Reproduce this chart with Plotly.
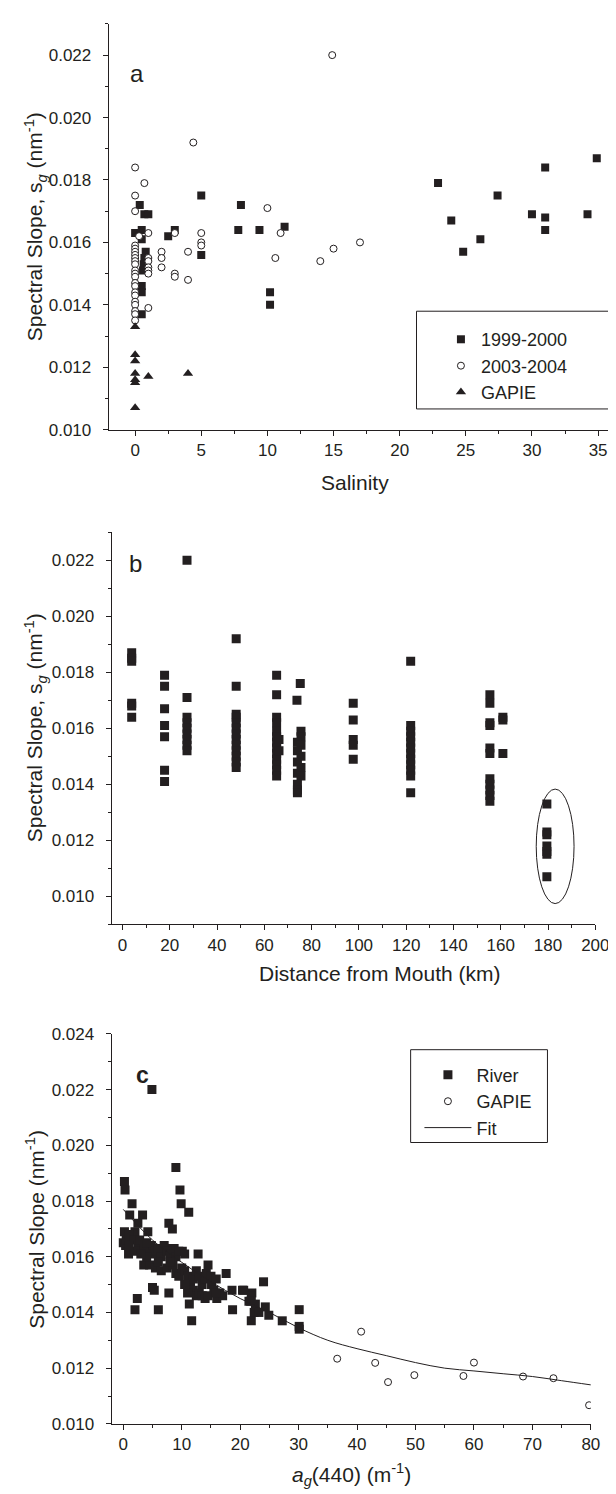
import plotly.graph_objects as go

# ---------------- Panel a : Salinity ----------------
a_9900_x = [0.35, 0.7, 1.0, 0.5, 0.0, 0.5, 0.8, 0.7, 0.65, 0.6, 0.5, 0.5, 0.5,
            2.5, 3.0, 5.0, 5.0, 8.0, 7.8, 9.4, 11.3, 10.2, 10.2,
            22.9, 23.9, 24.8, 26.1, 27.4, 30.0, 31.0, 31.0, 31.0, 34.2, 34.9]
a_9900_y = [0.0172, 0.0169, 0.0169, 0.0164, 0.0163, 0.0161, 0.0157, 0.0155, 0.0153, 0.0151, 0.0146, 0.0144, 0.0137,
            0.0162, 0.0164, 0.0175, 0.0156, 0.0172, 0.0164, 0.0164, 0.0165, 0.0144, 0.0140,
            0.0179, 0.0167, 0.0157, 0.0161, 0.0175, 0.0169, 0.0184, 0.0168, 0.0164, 0.0169, 0.0187]

a_0304_x = [0, 0.7, 0, 0, 1, 0.3, 3, 5, 5, 5, 4, 2, 2, 2, 3, 3, 4, 1,
            0, 0, 0, 0, 0, 0, 0, 0, 0, 0, 0, 0, 0, 0, 0, 0, 0, 0, 0,
            1, 1, 1, 1, 1, 4.4, 14.9, 10, 11, 10.6, 14, 15, 17]
a_0304_y = [0.0184, 0.0179, 0.0175, 0.0170, 0.0163, 0.0162, 0.0163, 0.0163, 0.0160, 0.0159, 0.0157, 0.0157, 0.0155, 0.0152, 0.0150, 0.0149, 0.0148, 0.0139,
            0.0159, 0.0158, 0.0157, 0.0156, 0.0155, 0.0154, 0.0153, 0.0151, 0.0150, 0.0149, 0.0147, 0.0146, 0.0144, 0.0143, 0.0141, 0.0140, 0.0138, 0.0137, 0.0135,
            0.0155, 0.0154, 0.0152, 0.0151, 0.0150, 0.0192, 0.0220, 0.0171, 0.0163, 0.0155, 0.0154, 0.0158, 0.0160]

a_gapie_x = [0, 0, 0, 0, 0, 0, 0, 1, 4]
a_gapie_y = [0.0133, 0.0124, 0.0122, 0.0118, 0.0116, 0.0115, 0.0107, 0.0117, 0.0118]

# ---------------- Panel b : Distance ----------------
b_x = ([3.9] * 6 + [17.8] * 7 + [27.3] * 9 + [48.1] * 13 + [65.2] * 13 + [66.2] * 2 +
       [75.2, 73.8, 75.5, 75.5, 74.0, 75.5, 74.0, 75.5, 74.0, 75.5, 74.0, 75.5, 74.0, 74.0, 74.0] +
       [97.6] * 5 + [121.9] * 12 + [155.4] * 11 + [160.9] * 3 + [179.5] * 7)
b_y = ([0.0187, 0.0185, 0.0184, 0.0169, 0.0168, 0.0164] +
       [0.0179, 0.0175, 0.0167, 0.0161, 0.0157, 0.0145, 0.0141] +
       [0.0220, 0.0171, 0.0164, 0.0162, 0.0160, 0.0158, 0.0156, 0.0154, 0.0152] +
       [0.0192, 0.0175, 0.0165, 0.0164, 0.0162, 0.0160, 0.0158, 0.0156, 0.0154, 0.0152, 0.0150, 0.0148, 0.0146] +
       [0.0179, 0.0172, 0.0164, 0.0162, 0.0159, 0.0157, 0.0155, 0.0153, 0.0151, 0.0149, 0.0147, 0.0145, 0.0143] +
       [0.0156, 0.0152] +
       [0.0176, 0.0170, 0.0159, 0.0157, 0.0155, 0.0154, 0.0152, 0.0150, 0.0148, 0.0146, 0.0144, 0.0143, 0.0140, 0.0138, 0.0137] +
       [0.0169, 0.0163, 0.0156, 0.0154, 0.0149] +
       [0.0184, 0.0161, 0.0159, 0.0157, 0.0155, 0.0153, 0.0151, 0.0149, 0.0147, 0.0145, 0.0143, 0.0137] +
       [0.0172, 0.0169, 0.0162, 0.0161, 0.0153, 0.0151, 0.0142, 0.0140, 0.0138, 0.0136, 0.0134] +
       [0.0164, 0.0163, 0.0151] +
       [0.0133, 0.0123, 0.0122, 0.0118, 0.0116, 0.0115, 0.0107])
ellipse_x = [175.0, 191.0]
ellipse_y = [0.00974, 0.01383]

# ---------------- Panel c : ag(440) ----------------
river_x = [4.9, 9.0, 0.2, 0.3, 9.7, 1.5, 9.9, 11.2, 1.1, 3.3, 7.8, 8.4, 2.5, 0.2, 2.0, 4.2,
           0.4, 2.5, 4.8, 7.3, 8.7, 10.1, 0.9, 12.8,
           0.0, 0.5, 1.0, 1.8, 2.8, 3.5, 4.0, 5.0, 5.5, 6.0, 6.5, 7.0, 7.5, 8.0, 9.0, 9.5, 10.5,
           3.5, 4.5, 5.5, 6.5, 7.5, 8.5, 9.0, 9.5, 10.0, 10.5, 11.0, 11.5, 12.0, 12.5, 13.0, 13.5,
           14.0, 14.2, 14.5, 15.0, 15.1, 15.5, 15.9, 16.0, 12.0, 12.5, 13.0, 13.5, 14.0, 14.5, 11.0,
           10.5, 8.0, 6.0, 4.0, 2.0, 1.0, 3.0, 17.6, 18.6, 20.4, 22.0, 24.0, 16.5, 17.0,
           5.0, 5.3, 7.8, 2.4, 2.0, 6.0, 11.3, 11.7, 18.7, 20.6, 21.8, 21.9, 21.5, 22.6, 22.4,
           21.9, 24.3, 24.9, 23.2, 27.2, 30.1, 30.1, 30.1, 15.8]
river_y = [0.0220, 0.0192, 0.0187, 0.0184, 0.0184, 0.0179, 0.0179, 0.0176, 0.0175, 0.0175, 0.0172, 0.0170, 0.0172, 0.0169, 0.0169, 0.0169,
           0.0164, 0.0164, 0.0164, 0.0163, 0.0163, 0.0162, 0.0161, 0.0161,
           0.0165, 0.0166, 0.0168, 0.0166, 0.0166, 0.0163, 0.0165, 0.0161, 0.0162, 0.0163, 0.0160, 0.0164, 0.0162, 0.0161, 0.0160, 0.0162, 0.0161,
           0.0157, 0.0157, 0.0156, 0.0155, 0.0156, 0.0157, 0.0154, 0.0153, 0.0156, 0.0155, 0.0153, 0.0150, 0.0152, 0.0155, 0.0153, 0.0150,
           0.0152, 0.0154, 0.0157, 0.0153, 0.0150, 0.0148, 0.0152, 0.0145, 0.0148, 0.0146, 0.0147, 0.0146, 0.0145, 0.0146, 0.0147,
           0.0150, 0.0158, 0.0158, 0.0160, 0.0162, 0.0164, 0.0161, 0.0154, 0.0148, 0.0148, 0.0147, 0.0151, 0.0147, 0.0146,
           0.0149, 0.0148, 0.0147, 0.0145, 0.0141, 0.0141, 0.0143, 0.0137, 0.0141, 0.0148, 0.0144, 0.0146, 0.0144, 0.0143, 0.0140,
           0.0137, 0.0142, 0.0139, 0.0140, 0.0137, 0.0141, 0.0135, 0.0134, 0.0147]
gapie_x = [36.6, 40.7, 43.1, 45.3, 49.8, 58.2, 60.0, 68.4, 73.6, 79.7]
gapie_y = [0.01234, 0.01331, 0.01219, 0.01150, 0.01175, 0.01172, 0.01220, 0.01170, 0.01164, 0.01067]
fit_x = [0, 5, 10, 15, 20, 25, 30, 35, 40, 45, 50, 55, 60, 65, 70, 75, 80]
fit_y = [0.0177, 0.0166, 0.0158, 0.0151, 0.0145, 0.0140, 0.01345, 0.0130, 0.0127, 0.01245, 0.0122,
         0.0120, 0.0119, 0.0118, 0.0117, 0.01155, 0.0114]

# ---------------- Figure ----------------
W, H = 616, 1494
INK = "#231f20"
FONT = "Liberation Sans, Arial, sans-serif"

def px_x(p):
    return p / W

def px_y(p):
    return 1 - p / H

fig = go.Figure()

fig.add_trace(go.Scatter(x=a_9900_x, y=a_9900_y, mode="markers", name="1999-2000",
                         marker=dict(symbol="square", size=8, color=INK, line=dict(width=0)),
                         xaxis="x", yaxis="y", legend="legend"))
fig.add_trace(go.Scatter(x=a_0304_x, y=a_0304_y, mode="markers", name="2003-2004",
                         marker=dict(symbol="circle", size=7, color="white", line=dict(width=1, color=INK)),
                         xaxis="x", yaxis="y", legend="legend"))
fig.add_trace(go.Scatter(x=a_gapie_x, y=a_gapie_y, mode="markers", name="GAPIE",
                         marker=dict(symbol="triangle-up", size=9, color=INK, line=dict(width=0)),
                         xaxis="x", yaxis="y", legend="legend"))

fig.add_trace(go.Scatter(x=b_x, y=b_y, mode="markers", showlegend=False,
                         marker=dict(symbol="square", size=9, color=INK, line=dict(width=0)),
                         xaxis="x2", yaxis="y2"))

fig.add_trace(go.Scatter(x=river_x, y=river_y, mode="markers", name="River",
                         marker=dict(symbol="square", size=9, color=INK, line=dict(width=0)),
                         xaxis="x3", yaxis="y3", legend="legend2"))
fig.add_trace(go.Scatter(x=gapie_x, y=gapie_y, mode="markers", name="GAPIE",
                         marker=dict(symbol="circle", size=7, color="white", line=dict(width=1, color=INK)),
                         xaxis="x3", yaxis="y3", legend="legend2"))
fig.add_trace(go.Scatter(x=fit_x, y=fit_y, mode="lines", name="Fit", line=dict(color=INK, width=1, shape="spline"),
                         xaxis="x3", yaxis="y3", legend="legend2"))

def axis_common():
    return dict(showline=True, linecolor=INK, linewidth=1, ticks="outside", ticklen=5, tickwidth=1,
                tickcolor=INK, showgrid=False, zeroline=False, mirror=False,
                tickfont=dict(family=FONT, size=17, color=INK))

fig.update_layout(
    xaxis=dict(domain=[px_x(103), 1.0], range=[-2, 35.9], anchor="y", dtick=5, tick0=0,
               minor=dict(ticks="outside", ticklen=3, dtick=2.5, tickcolor=INK), **axis_common()),
    yaxis=dict(domain=[px_y(418), px_y(7)], range=[0.010, 0.023], anchor="x", dtick=0.002, tick0=0.010,
               tickformat=".3f", ticklabelstandoff=8,
               minor=dict(ticks="outside", ticklen=3, dtick=0.001, tickcolor=INK), **axis_common()),
    xaxis2=dict(domain=[px_x(106), px_x(601)], range=[-4.6, 200], anchor="y2", dtick=20, tick0=0,
                minor=dict(ticks="outside", ticklen=3, dtick=10, tickcolor=INK), **axis_common()),
    yaxis2=dict(domain=[px_y(919), px_y(522)], range=[0.009, 0.023], anchor="x2", dtick=0.002, tick0=0.010,
                tickformat=".3f", ticklabelstandoff=8,
                minor=dict(ticks="outside", ticklen=3, dtick=0.001, tickcolor=INK), **axis_common()),
    xaxis3=dict(domain=[px_x(106), px_x(596.4)], range=[-2, 80], anchor="y3", dtick=10, tick0=0,
                minor=dict(ticks="outside", ticklen=3, dtick=5, tickcolor=INK), **axis_common()),
    yaxis3=dict(domain=[px_y(1425), px_y(1030)], range=[0.010, 0.024], anchor="x3", dtick=0.002, tick0=0.010,
                tickformat=".3f", ticklabelstandoff=8,
                minor=dict(ticks="outside", ticklen=3, dtick=0.001, tickcolor=INK), **axis_common()),
)

fig.update_layout(
    width=W, height=H, margin=dict(l=0, r=0, t=0, b=0),
    paper_bgcolor="white", plot_bgcolor="white",
    font=dict(family=FONT, size=17, color=INK),
    legend=dict(x=px_x(443), y=px_y(308), xanchor="left", yanchor="top",
                bgcolor="rgba(0,0,0,0)", borderwidth=0, font=dict(family=FONT, size=18, color=INK)),
    legend2=dict(x=px_x(421), y=px_y(1053), xanchor="left", yanchor="top", itemwidth=47,
                 bgcolor="rgba(0,0,0,0)", borderwidth=0, font=dict(family=FONT, size=18, color=INK)),
)

# legend frames
fig.add_shape(type="rect", xref="paper", yref="paper", x0=px_x(418), x1=px_x(615), y0=px_y(397), y1=px_y(298),
              line=dict(color=INK, width=1))
fig.add_shape(type="rect", xref="paper", yref="paper", x0=px_x(412), x1=px_x(552), y0=px_y(1140), y1=px_y(1046),
              line=dict(color=INK, width=1))
# ellipse around GAPIE stations
fig.add_shape(type="circle", xref="x2", yref="y2", x0=ellipse_x[0], x1=ellipse_x[1],
              y0=ellipse_y[0], y1=ellipse_y[1], line=dict(color=INK, width=1))

TITLE = dict(family=FONT, size=21, color=INK)
ann = [
    dict(text="a", x=px_x(132), y=px_y(57), font=dict(family=FONT, size=24, color=INK)),
    dict(text="b", x=px_x(130), y=px_y(554), font=dict(family=FONT, size=24, color=INK)),
    dict(text="<b>c</b>", x=px_x(138), y=px_y(1072), font=dict(family=FONT, size=23, color=INK)),
    dict(text="Salinity", x=px_x(355), y=px_y(471), font=TITLE),
    dict(text="Distance from Mouth (km)", x=px_x(381), y=px_y(969), font=TITLE),
    dict(text="<i>a</i><sub><i>g</i></sub>(440) (m<sup>-1</sup>)", x=px_x(351), y=px_y(1476), font=TITLE),
    dict(text="Spectral Slope, s<sub><i>g</i></sub> (nm<sup>-1</sup>)", x=px_x(28), y=px_y(212.5),
         textangle=-90, font=TITLE),
    dict(text="Spectral Slope, s<sub><i>g</i></sub> (nm<sup>-1</sup>)", x=px_x(28), y=px_y(720),
         textangle=-90, font=TITLE),
    dict(text="Spectral Slope (nm<sup>-1</sup>)", x=px_x(28), y=px_y(1228), textangle=-90, font=TITLE),
]
for a in ann:
    fig.add_annotation(xref="paper", yref="paper", showarrow=False, xanchor="center", yanchor="middle", **a)

fig.write_html("out.html")
